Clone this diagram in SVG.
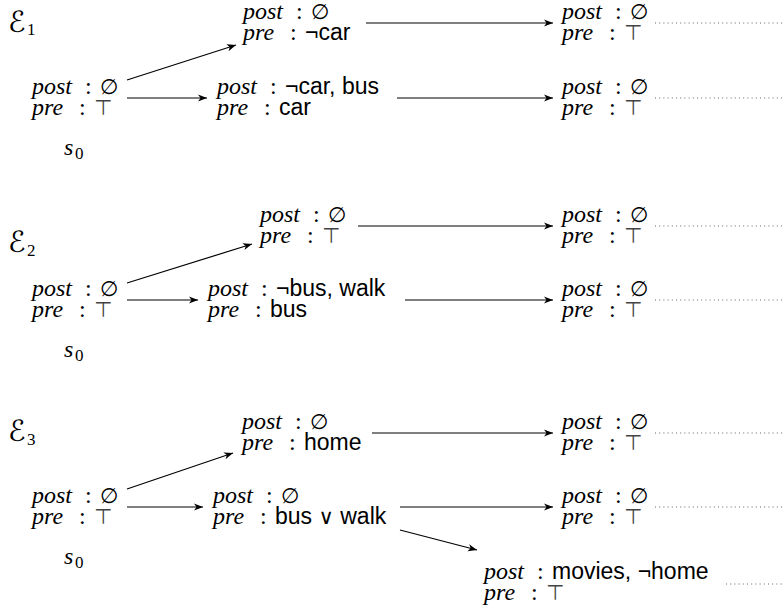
<svg xmlns="http://www.w3.org/2000/svg" width="784" height="611" viewBox="0 0 784 611">
<style>
  text { fill: #000; }
  .i { font-family: "Liberation Serif", serif; font-style: italic; font-size: 24px; }
  .c { font-family: "Liberation Serif", serif; font-size: 24px; }
  .v { font-family: "Liberation Sans", sans-serif; font-size: 23px; }
  .m { font-family: "DejaVu Sans", sans-serif; font-size: 21px; }
  .t { font-family: "DejaVu Sans", sans-serif; font-size: 21px; fill: #444; }
  .sub { font-family: "Liberation Serif", serif; font-size: 17px; }
  .E { font-family: "DejaVu Sans", sans-serif; font-size: 29px; }
  .edge { stroke: #000; stroke-width: 1.2; fill: none; marker-end: url(#ah); }
  .dot { stroke: #666; stroke-width: 1; fill: none; stroke-dasharray: 1 3.2; }
</style>
<defs>
  <marker id="ah" markerUnits="userSpaceOnUse" markerWidth="12" markerHeight="10" viewBox="-10 -5 11 10" refX="0" refY="0" orient="auto">
    <path d="M0,0 L-9,-3.6 L-6.5,0 L-9,3.6 Z" fill="#000"/>
  </marker>
</defs>

<!-- ===== Group 1 ===== -->
<g id="label-E1"><text class="E" x="8" y="32">ℰ</text><text class="sub" x="27" y="35">1</text></g>
<g id="g1-s0" transform="translate(32,98)">
  <text class="i" x="0" y="-4">post</text><text class="c" x="53" y="-4">:</text><text class="m" x="68" y="-4">∅</text>
  <text class="i" x="0" y="17">pre</text><text class="c" x="47" y="17">:</text><text class="t" x="62" y="17">⊤</text>
</g>
<g id="g1-s0-label"><text class="i" x="64" y="155">s</text><text class="sub" x="75" y="159">0</text></g>
<g id="g1-a" transform="translate(243,23)">
  <text class="i" x="0" y="-4">post</text><text class="c" x="53" y="-4">:</text><text class="m" x="68" y="-4">∅</text>
  <text class="i" x="0" y="17">pre</text><text class="c" x="47" y="17">:</text><text class="v" x="62" y="17">¬car</text>
</g>
<g id="g1-b" transform="translate(217,98)">
  <text class="i" x="0" y="-4">post</text><text class="c" x="53" y="-4">:</text><text class="v" x="68" y="-4">¬car, bus</text>
  <text class="i" x="0" y="17">pre</text><text class="c" x="47" y="17">:</text><text class="v" x="62" y="17">car</text>
</g>
<g id="g1-c" transform="translate(562,23)">
  <text class="i" x="0" y="-4">post</text><text class="c" x="53" y="-4">:</text><text class="m" x="68" y="-4">∅</text>
  <text class="i" x="0" y="17">pre</text><text class="c" x="47" y="17">:</text><text class="t" x="62" y="17">⊤</text>
</g>
<g id="g1-d" transform="translate(562,98)">
  <text class="i" x="0" y="-4">post</text><text class="c" x="53" y="-4">:</text><text class="m" x="68" y="-4">∅</text>
  <text class="i" x="0" y="17">pre</text><text class="c" x="47" y="17">:</text><text class="t" x="62" y="17">⊤</text>
</g>

<!-- ===== Group 2 ===== -->
<g id="label-E2"><text class="E" x="8" y="252">ℰ</text><text class="sub" x="27" y="256">2</text></g>
<g id="g2-s0" transform="translate(32,300)">
  <text class="i" x="0" y="-4">post</text><text class="c" x="53" y="-4">:</text><text class="m" x="68" y="-4">∅</text>
  <text class="i" x="0" y="17">pre</text><text class="c" x="47" y="17">:</text><text class="t" x="62" y="17">⊤</text>
</g>
<g id="g2-s0-label"><text class="i" x="64" y="357">s</text><text class="sub" x="75" y="361">0</text></g>
<g id="g2-a" transform="translate(260,226)">
  <text class="i" x="0" y="-4">post</text><text class="c" x="53" y="-4">:</text><text class="m" x="68" y="-4">∅</text>
  <text class="i" x="0" y="17">pre</text><text class="c" x="47" y="17">:</text><text class="t" x="62" y="17">⊤</text>
</g>
<g id="g2-b" transform="translate(208,300)">
  <text class="i" x="0" y="-4">post</text><text class="c" x="53" y="-4">:</text><text class="v" x="68" y="-4">¬bus, walk</text>
  <text class="i" x="0" y="17">pre</text><text class="c" x="47" y="17">:</text><text class="v" x="62" y="17">bus</text>
</g>
<g id="g2-c" transform="translate(562,226)">
  <text class="i" x="0" y="-4">post</text><text class="c" x="53" y="-4">:</text><text class="m" x="68" y="-4">∅</text>
  <text class="i" x="0" y="17">pre</text><text class="c" x="47" y="17">:</text><text class="t" x="62" y="17">⊤</text>
</g>
<g id="g2-d" transform="translate(562,300)">
  <text class="i" x="0" y="-4">post</text><text class="c" x="53" y="-4">:</text><text class="m" x="68" y="-4">∅</text>
  <text class="i" x="0" y="17">pre</text><text class="c" x="47" y="17">:</text><text class="t" x="62" y="17">⊤</text>
</g>

<!-- ===== Group 3 ===== -->
<g id="label-E3"><text class="E" x="8" y="441">ℰ</text><text class="sub" x="27" y="445">3</text></g>
<g id="g3-s0" transform="translate(32,507)">
  <text class="i" x="0" y="-4">post</text><text class="c" x="53" y="-4">:</text><text class="m" x="68" y="-4">∅</text>
  <text class="i" x="0" y="17">pre</text><text class="c" x="47" y="17">:</text><text class="t" x="62" y="17">⊤</text>
</g>
<g id="g3-s0-label"><text class="i" x="64" y="564">s</text><text class="sub" x="75" y="568">0</text></g>
<g id="g3-a" transform="translate(242,433)">
  <text class="i" x="0" y="-4">post</text><text class="c" x="53" y="-4">:</text><text class="m" x="68" y="-4">∅</text>
  <text class="i" x="0" y="17">pre</text><text class="c" x="47" y="17">:</text><text class="v" x="62" y="17">home</text>
</g>
<g id="g3-b" transform="translate(213,507)">
  <text class="i" x="0" y="-4">post</text><text class="c" x="53" y="-4">:</text><text class="m" x="68" y="-4">∅</text>
  <text class="i" x="0" y="17">pre</text><text class="c" x="47" y="17">:</text><text class="v" x="62" y="17">bus <tspan class="m">∨</tspan> walk</text>
</g>
<g id="g3-c" transform="translate(562,433)">
  <text class="i" x="0" y="-4">post</text><text class="c" x="53" y="-4">:</text><text class="m" x="68" y="-4">∅</text>
  <text class="i" x="0" y="17">pre</text><text class="c" x="47" y="17">:</text><text class="t" x="62" y="17">⊤</text>
</g>
<g id="g3-d" transform="translate(562,507)">
  <text class="i" x="0" y="-4">post</text><text class="c" x="53" y="-4">:</text><text class="m" x="68" y="-4">∅</text>
  <text class="i" x="0" y="17">pre</text><text class="c" x="47" y="17">:</text><text class="t" x="62" y="17">⊤</text>
</g>
<g id="g3-e" transform="translate(484,583)">
  <text class="i" x="0" y="-4">post</text><text class="c" x="53" y="-4">:</text><text class="v" x="68" y="-4">movies, ¬home</text>
  <text class="i" x="0" y="17">pre</text><text class="c" x="47" y="17">:</text><text class="t" x="62" y="17">⊤</text>
</g>

<!-- ===== Connectors ===== -->
<g id="connectors">
  <line class="edge" x1="127" y1="80" x2="236" y2="45"/>
  <line class="edge" x1="127" y1="98" x2="207" y2="98"/>
  <line class="edge" x1="366" y1="23" x2="553" y2="23"/>
  <line class="edge" x1="397" y1="98" x2="553" y2="98"/>
  <line class="dot" x1="655" y1="23" x2="784" y2="23"/>
  <line class="dot" x1="655" y1="98" x2="784" y2="98"/>

  <line class="edge" x1="127" y1="283" x2="252" y2="244"/>
  <line class="edge" x1="127" y1="300" x2="198" y2="300"/>
  <line class="edge" x1="358" y1="226" x2="553" y2="226"/>
  <line class="edge" x1="405" y1="300" x2="553" y2="300"/>
  <line class="dot" x1="655" y1="226" x2="784" y2="226"/>
  <line class="dot" x1="655" y1="300" x2="784" y2="300"/>

  <line class="edge" x1="127" y1="489" x2="233" y2="453"/>
  <line class="edge" x1="127" y1="507" x2="203" y2="507"/>
  <line class="edge" x1="372" y1="433" x2="553" y2="433"/>
  <line class="edge" x1="400" y1="507" x2="553" y2="507"/>
  <line class="edge" x1="400" y1="530" x2="477" y2="550"/>
  <line class="dot" x1="655" y1="433" x2="784" y2="433"/>
  <line class="dot" x1="655" y1="507" x2="784" y2="507"/>
  <line class="dot" x1="726" y1="584" x2="784" y2="584"/>
</g>
</svg>
